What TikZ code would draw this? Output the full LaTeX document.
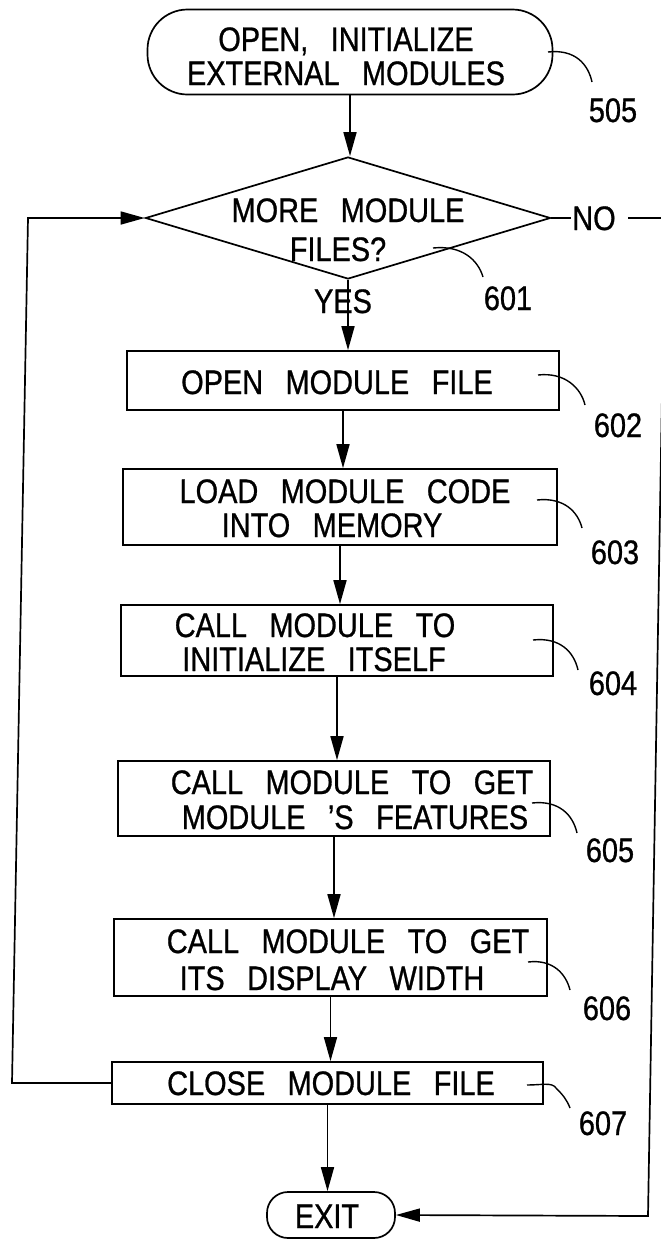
\documentclass[tikz,border=0pt]{standalone}
\usepackage{fontspec}
\setmainfont{Liberation Sans}[FakeStretch=0.85, WordSpace=2.8, FakeBold=0.8]
\usetikzlibrary{arrows.meta,shapes.geometric}
\begin{document}
\begin{tikzpicture}[x=1pt,y=-1pt,line width=1.7pt,
  txt/.style={font=\fontsize{34}{36}\selectfont, inner sep=0pt, text height=24pt, text depth=0pt},
  box/.style={draw, rectangle, inner sep=0pt},
  term/.style={draw, rectangle, inner sep=0pt},
  arr/.style={-{Triangle[length=24pt,width=13pt]}},
  lead/.style={line width=1.4pt}]
\useasboundingbox (0,0) rectangle (661,1240);

% start terminator
\node[term, rounded corners=40pt, minimum width=405pt, minimum height=85pt] (t505) at (350,52) {};
\node[txt] (t505a) at (346,39) {OPEN, INITIALIZE};
\node[txt] (t505b) at (346,73) {EXTERNAL MODULES};

% decision
\node[draw, diamond, inner sep=0pt, minimum width=405pt, minimum height=122pt] (dia) at (348,218) {};
\node[txt] (diaa) at (348,210) {MORE MODULE};
\node[txt] (diab) at (338,249) {FILES?};

% boxes
\node[box, minimum width=432pt, minimum height=59pt] (b602) at (343,380.5) {};
\node[txt] (b602a) at (337,382) {OPEN MODULE FILE};

\node[box, minimum width=434pt, minimum height=76pt] (b603) at (340,507) {};
\node[txt] (b603a) at (345,491) {LOAD MODULE CODE};
\node[txt] (b603b) at (332,525) {INTO MEMORY};

\node[box, minimum width=432pt, minimum height=71pt] (b604) at (337,640.5) {};
\node[txt] (b604a) at (315,625) {CALL MODULE TO};
\node[txt] (b604b) at (314,659) {INITIALIZE ITSELF};

\node[box, minimum width=432pt, minimum height=75pt] (b605) at (334,798.5) {};
\node[txt] (b605a) at (352,782) {CALL MODULE TO GET};
\node[txt] (b605b) at (355,817) {MODULE 'S FEATURES};

\node[box, minimum width=433pt, minimum height=77pt] (b606) at (330.5,957.5) {};
\node[txt] (b606a) at (348,941) {CALL MODULE TO GET};
\node[txt] (b606b) at (332,978) {ITS DISPLAY WIDTH};

\node[box, minimum width=431pt, minimum height=42pt] (b607) at (327.5,1083) {};
\node[txt] (b607a) at (331,1083) {CLOSE MODULE FILE};

% exit terminator
\node[term, rounded corners=21pt, minimum width=128pt, minimum height=46pt] (exit) at (331,1215) {};
\node[txt] (exita) at (327,1216) {EXIT};

% main flow
\draw[arr] (t505.south) -- (t505.south |- dia.north);
\draw[arr] (dia.south) -- (dia.south |- b602.north);
\node[txt] (yes) at (343,301) {YES};
\draw[arr] (b602.south) -- (b602.south |- b603.north);
\draw[arr] (b603.south) -- (b603.south |- b604.north);
\draw[arr] (b604.south) -- (b604.south |- b605.north);
\draw[arr] (b605.south) -- (b605.south |- b606.north);
\draw[arr] (b606.south) -- (b606.south |- b607.north);
\draw[arr] (b607.south) -- (b607.south |- exit.north);

% loop back
\coordinate (lb) at (12,1083);
\coordinate (lt) at (28,218);
\draw[arr] (b607.west) -- (lb) -- (lt) -- (dia.west);

% NO branch
\node[txt] (no) at (594,218) {NO};
\draw (dia.east) -- (no.west);
\coordinate (noR) at (628,218);
\coordinate (rt) at (665,218);
\coordinate (rb) at (648,1216);
\draw (noR) -- (rt);
\draw[arr] (rt) -- (rb) -- (exit.east);

% reference labels
\node[txt] (n505) at (613,110) {505};
\node[txt] (n601) at (508,298) {601};
\node[txt] (n602) at (618,425) {602};
\node[txt] (n603) at (615,552) {603};
\node[txt] (n604) at (613,683) {604};
\node[txt] (n605) at (610,850) {605};
\node[txt] (n606) at (607,1008) {606};
\node[txt] (n607) at (603,1123) {607};

\coordinate (s505) at (548,52);  \coordinate (e505) at (592,82);
\coordinate (s601) at (433,248); \coordinate (e601) at (483,277);
\coordinate (s602) at (538,375); \coordinate (e602) at (585,405);
\coordinate (s603) at (537,500); \coordinate (e603) at (582,528);
\coordinate (s604) at (533,640); \coordinate (e604) at (578,670);
\coordinate (s605) at (532,803); \coordinate (e605) at (577,833);
\coordinate (s606) at (528,962); \coordinate (e606) at (570,990);
\coordinate (s607) at (527,1085); \coordinate (e607) at (570,1108);

\draw[lead] (s505) .. controls (575,49) and (588,64) .. (e505);
\draw[lead] (s601) .. controls (462,245) and (478,260) .. (e601);
\draw[lead] (s602) .. controls (565,372) and (581,388) .. (e602);
\draw[lead] (s603) .. controls (564,497) and (578,512) .. (e603);
\draw[lead] (s604) .. controls (560,637) and (574,652) .. (e604);
\draw[lead] (s605) .. controls (559,800) and (573,815) .. (e605);
\draw[lead] (s606) .. controls (553,959) and (566,974) .. (e606);
\draw[lead] (s607) .. controls (542,1085) and (552,1082) .. (556,1088) .. controls (563,1095) and (567,1100) .. (e607);
\end{tikzpicture}
\end{document}
